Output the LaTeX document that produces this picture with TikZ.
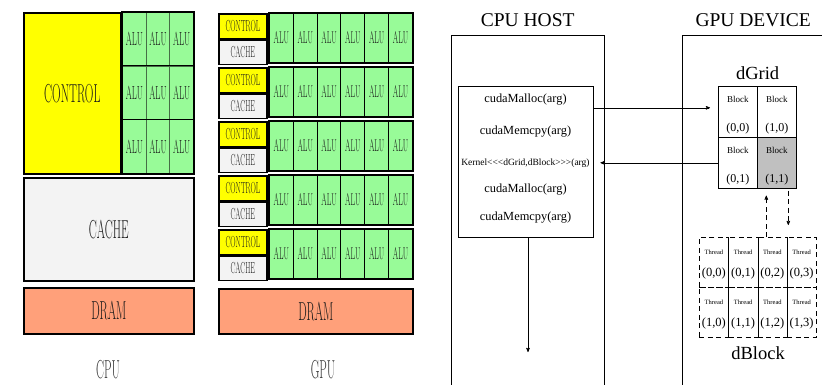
\documentclass[tikz,border=0pt]{standalone}
\usepackage{graphicx}
\usepackage{fontspec}
\newfontfamily\hostfont{Liberation Serif}
\usetikzlibrary{arrows,positioning}

\definecolor{ctrlyellow}{RGB}{255,255,0}
\definecolor{alugreen}{RGB}{152,251,152}
\definecolor{aluline}{RGB}{70,110,70}
\definecolor{cachegray}{RGB}{243,243,243}
\definecolor{dramsalmon}{RGB}{255,160,122}
\definecolor{blockgray}{RGB}{192,192,192}

\newcommand{\squeezed}[1]{\scalebox{0.46}[1]{#1}}

\begin{document}
\begin{tikzpicture}[
        x=1pt, y=-1pt,
        >=stealth',
        unit/.style={
            draw,
            line width=1.6pt,
            inner sep=0pt,
            anchor=north west,
            text=black!90
        },
        ctrl/.style={unit, fill=ctrlyellow},
        cache/.style={unit, fill=cachegray},
        dram/.style={unit, fill=dramsalmon},
        alu/.style={unit, fill=alugreen, line width=1pt},
        archname/.style={inner sep=0pt, text=black!80, font=\fontsize{26}{26}\selectfont},
        hostframe/.style={draw, thin, inner sep=0pt, anchor=north west},
        headline/.style={inner sep=0pt, font=\hostfont\fontsize{19.5}{19.5}\selectfont},
        call/.style={inner sep=0pt, font=\hostfont\fontsize{12.4}{12.4}\selectfont},
        gridcell/.style={
            draw,
            semithick,
            inner sep=0pt,
            anchor=north west,
            align=center,
            minimum width=39pt,
            minimum height=51pt,
            font=\hostfont\fontsize{12}{12}\selectfont
        },
        threadcell/.style={
            draw,
            semithick,
            dash pattern=on 5pt off 3.5pt,
            inner sep=0pt,
            anchor=north west,
            align=center,
            minimum width=29.25pt,
            minimum height=50pt,
            font=\hostfont\fontsize{12.5}{12.5}\selectfont
        }
    ]
    \useasboundingbox (0,0) rectangle (822,384);

    % CPU
    \node[ctrl, minimum width=97pt, minimum height=161pt, font=\fontsize{26}{26}\selectfont] (cpuctrl) at (23,12) {\squeezed{CONTROL}};
    \foreach \r in {0,1,2} {
        \foreach \c in {0,1,2}
            \node[alu, draw=aluline, minimum width=23.67pt, minimum height=53.67pt, font=\fontsize{19}{19}\selectfont] (calu\r\c) at (122+23.67*\c,12+53.67*\r) {\squeezed{ALU}};
        \draw[line width=1.6pt] (calu\r0.north west) rectangle (calu\r2.south east);
    }
    \node[cache, minimum width=170pt, minimum height=103pt, font=\fontsize{26}{26}\selectfont] (cpucache) at (23,177) {\squeezed{CACHE}};
    \node[dram, minimum width=170pt, minimum height=46pt, font=\fontsize{26}{26}\selectfont] (cpudram) at (23,287) {\squeezed{DRAM}};
    \node[archname] (cpuname) at (108,370) {\squeezed{CPU}};

    % GPU
    \foreach \r in {0,...,4} {
        \node[ctrl, minimum width=48pt, minimum height=24.5pt, font=\fontsize{16}{16}\selectfont] (gctrl\r) at (218,13+54*\r) {\squeezed{CONTROL}};
        \node[cache, minimum width=48pt, minimum height=24.5pt, font=\fontsize{16}{16}\selectfont] (gcache\r) at (gctrl\r.south west) {\squeezed{CACHE}};
        \foreach \c in {0,...,5}
            \node[alu, minimum width=23.83pt, minimum height=49pt, font=\fontsize{17}{17}\selectfont] (galu\r\c) at (269+23.83*\c,13+54*\r) {\squeezed{ALU}};
        \draw[line width=1.6pt] (galu\r0.north west) rectangle (galu\r5.south east);
    }
    \node[dram, minimum width=194pt, minimum height=45pt, font=\fontsize{26}{26}\selectfont] (gpudram) at (218,288) {\squeezed{DRAM}};
    \node[archname] (gpuname) at (323,370) {\squeezed{GPU}};

    % host side
    \node[hostframe, minimum width=153pt, minimum height=370pt] (host) at (451,35) {};
    \node[headline, above=8pt of host] (hosttitle) {CPU HOST};
    \node[hostframe, minimum width=135pt, minimum height=151pt] (calls) at (458,86) {};
    \node[call] (malloca) at (525.5,100) {cudaMalloc(arg)};
    \node[call] (memcpya) at (525.5,132) {cudaMemcpy(arg)};
    \node[call, font=\hostfont\fontsize{9.5}{9.5}\selectfont] (kernel) at (525.5,163) {Kernel<{}<{}<dGrid,dBlock>{}>{}>(arg)};
    \node[call] (mallocb) at (525.5,190) {cudaMalloc(arg)};
    \node[call] (memcpyb) at (525.5,218) {cudaMemcpy(arg)};
    \coordinate (flowend) at (528,352);

    % device side
    \node[hostframe, minimum width=142pt, minimum height=370pt] (device) at (682,35) {};
    \node[headline, above=8pt of device] (devicetitle) {GPU DEVICE};
    \foreach \i/\j/\f in {0/0/white, 1/0/white, 0/1/white, 1/1/blockgray}
        \node[gridcell, fill=\f] (b\i\j) at (718+39*\i,86+51*\j) {{\fontsize{9}{9}\selectfont\rule{0pt}{13pt}Block}\\[17pt](\i,\j)};
    \node[headline, font=\hostfont\fontsize{18.5}{18.5}\selectfont, above=6pt of b00.north east] (dgrid) {dGrid};
    \foreach \r in {0,1}
        \foreach \c in {0,...,3}
            \node[threadcell] (t\r\c) at (699+29.25*\c,237+50*\r) {{\fontsize{6.5}{6.5}\selectfont\rule{0pt}{9.5pt}Thread}\\[10pt](\r,\c)};
    \node[headline, font=\hostfont\fontsize{18.5}{18.5}\selectfont, below=9pt of t11.south east] (dblock) {dBlock};

    \draw[->, semithick, shorten >=8pt] ([yshift=4pt]b00.west -| calls.east) -- ([yshift=4pt]b00.west);
    \draw[->, semithick, shorten >=7pt] (b01.west) -- (b01.west -| calls.east);
    \draw[->, semithick] (flowend |- calls.south) -- (flowend);
    \draw[->, semithick, dash pattern=on 5pt off 3.5pt, shorten >=7pt] ([xshift=-10.5pt]b11.south |- t02.north) -- ([xshift=-10.5pt]b11.south);
    \draw[->, semithick, dash pattern=on 5pt off 3.5pt, shorten <=2pt, shorten >=12pt] ([xshift=11.5pt]b11.south) -- ([xshift=11.5pt]b11.south |- t03.north);
\end{tikzpicture}
\end{document}
